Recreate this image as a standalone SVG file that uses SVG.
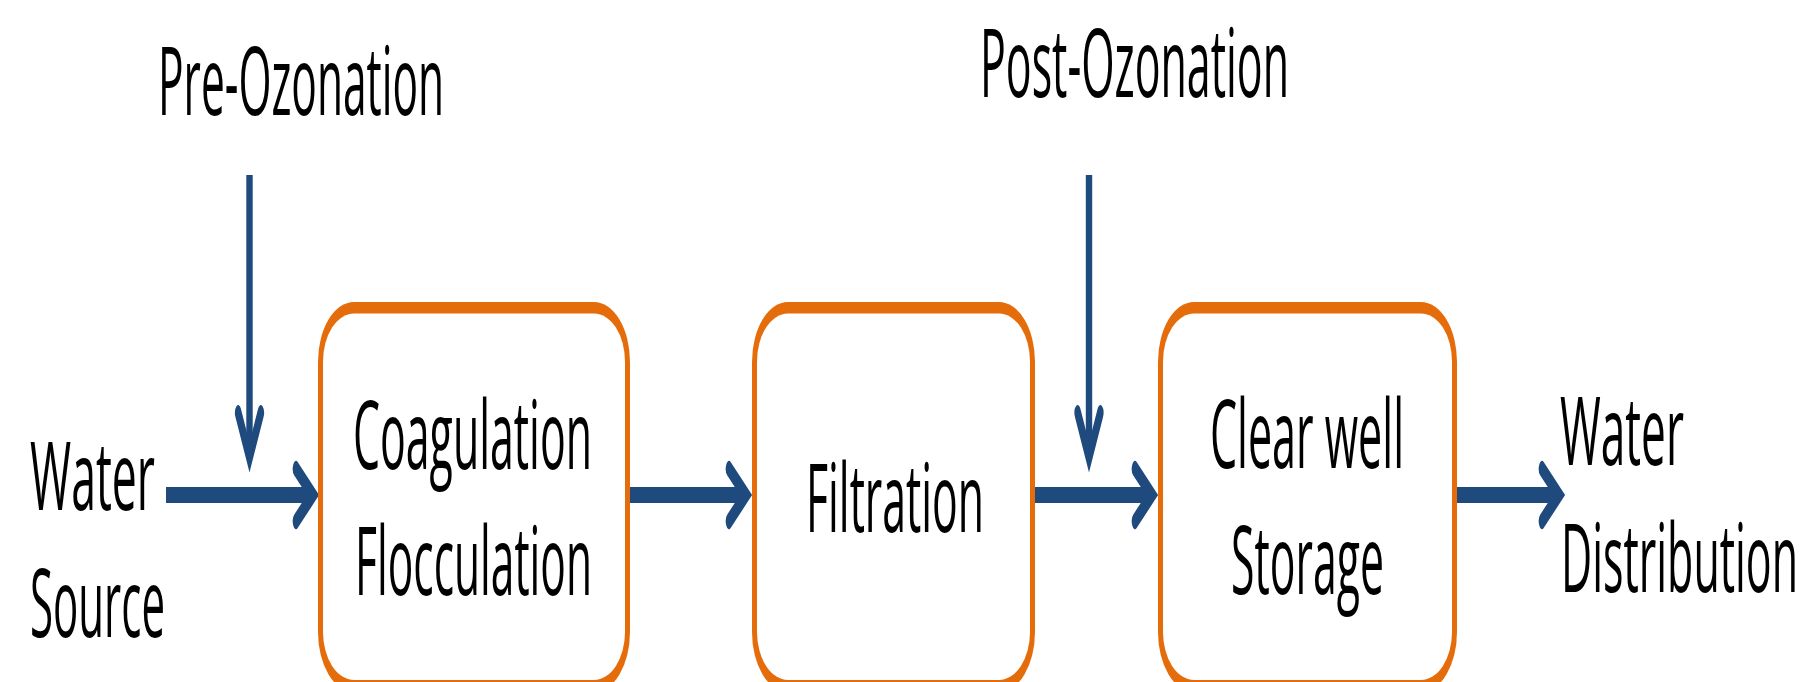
<svg xmlns="http://www.w3.org/2000/svg" width="1805" height="682" viewBox="0 0 1805 682">
  <style>
    .box-outer { fill: #E46C0A; }
    .box-inner { fill: #FFFFFF; }
    .lbl { font-family: "Open Sans", "Noto Sans", "Liberation Sans", sans-serif; font-size: 95px; fill: #000000; }
    .shaft { fill: none; stroke: #1F4A7E; stroke-width: 6.4; stroke-linecap: butt; }
    .head { fill: none; stroke: #1F4A7E; stroke-width: 6.4; stroke-linecap: round; stroke-linejoin: miter; stroke-miterlimit: 6; }
  </style>
  <rect width="1805" height="682" fill="#FFFFFF"/>

  <g id="connectors" transform="scale(1,2.5)">
    <!-- water source to coagulation -->
    <line class="shaft" x1="166" y1="198" x2="311" y2="198"/>
    <polyline class="head" points="296,187.5 313,198 296,208.5"/>
    <!-- coagulation to filtration -->
    <line class="shaft" x1="630" y1="198" x2="744" y2="198"/>
    <polyline class="head" points="729,187.5 746,198 729,208.5"/>
    <!-- filtration to clear well -->
    <line class="shaft" x1="1035" y1="198" x2="1150" y2="198"/>
    <polyline class="head" points="1135,187.5 1152,198 1135,208.5"/>
    <!-- clear well to distribution -->
    <line class="shaft" x1="1457" y1="198" x2="1557" y2="198"/>
    <polyline class="head" points="1542,187.5 1559,198 1542,208.5"/>
    <!-- pre-ozonation -->
    <line class="shaft" x1="249.5" y1="70" x2="249.5" y2="181"/>
    <polyline class="head" points="238.2,165.2 249.5,183 260.8,165.2"/>
    <!-- post-ozonation -->
    <line class="shaft" x1="1089" y1="70" x2="1089" y2="181"/>
    <polyline class="head" points="1077.7,165.2 1089,183 1100.3,165.2"/>
  </g>

  <g id="pre-ozonation">
    <text class="lbl" x="158" y="115" textLength="286" lengthAdjust="spacingAndGlyphs">Pre-Ozonation</text>
  </g>
  <g id="post-ozonation">
    <text class="lbl" x="980" y="97" textLength="309" lengthAdjust="spacingAndGlyphs">Post-Ozonation</text>
  </g>
  <g id="water-source">
    <text class="lbl" x="30" y="510" textLength="125" lengthAdjust="spacingAndGlyphs">Water</text>
    <text class="lbl" x="30" y="637" textLength="135" lengthAdjust="spacingAndGlyphs">Source</text>
  </g>
  <g id="coagulation-flocculation">
    <rect class="box-outer" x="318" y="302" width="312" height="390" rx="36" ry="60"/>
    <rect class="box-inner" x="323" y="313.5" width="302" height="366.5" rx="31" ry="48"/>
    <text class="lbl" x="353" y="469" textLength="239" lengthAdjust="spacingAndGlyphs">Coagulation</text>
    <text class="lbl" x="355" y="595" textLength="237" lengthAdjust="spacingAndGlyphs">Flocculation</text>
  </g>
  <g id="filtration">
    <rect class="box-outer" x="752" y="302" width="283" height="390" rx="36" ry="60"/>
    <rect class="box-inner" x="757" y="313.5" width="273" height="366.5" rx="31" ry="48"/>
    <text class="lbl" x="806" y="532" textLength="178" lengthAdjust="spacingAndGlyphs">Filtration</text>
  </g>
  <g id="clear-well-storage">
    <rect class="box-outer" x="1158" y="302" width="299" height="390" rx="36" ry="60"/>
    <rect class="box-inner" x="1163" y="313.5" width="289" height="366.5" rx="31" ry="48"/>
    <text class="lbl" x="1210" y="468" textLength="194" lengthAdjust="spacingAndGlyphs">Clear well</text>
    <text class="lbl" x="1231" y="594" textLength="153" lengthAdjust="spacingAndGlyphs">Storage</text>
  </g>
  <g id="water-distribution">
    <text class="lbl" x="1560" y="465" textLength="124" lengthAdjust="spacingAndGlyphs">Water</text>
    <text class="lbl" x="1561" y="592" textLength="237" lengthAdjust="spacingAndGlyphs">Distribution</text>
  </g>
</svg>
